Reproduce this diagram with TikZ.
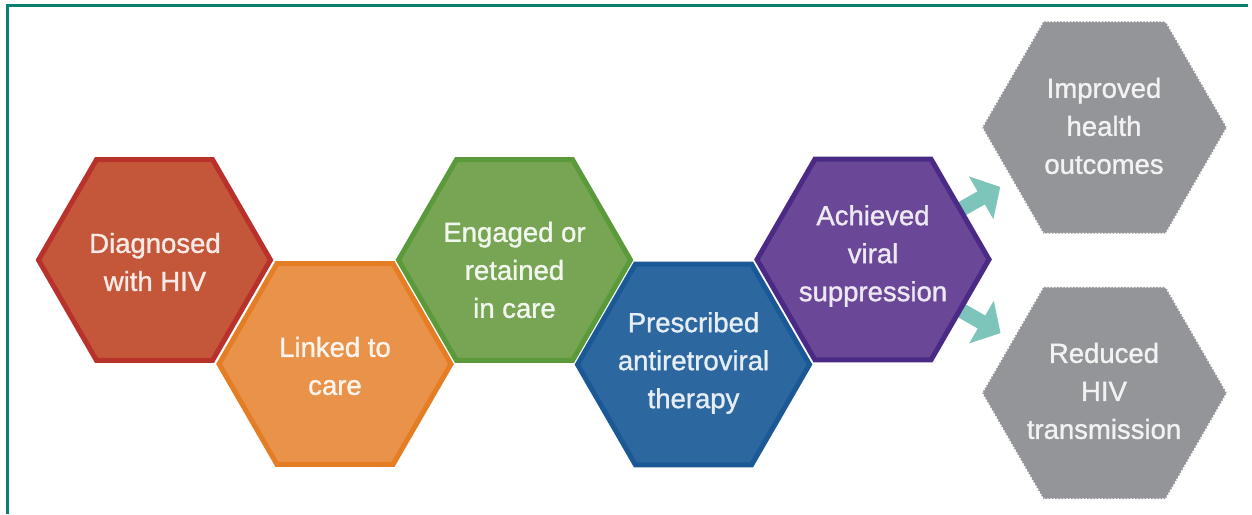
\documentclass[tikz,border=0pt]{standalone}
\usepackage{fontspec}
\setmainfont{Liberation Sans}
\newfontfamily\hexfont[FakeBold=1.2]{Liberation Sans}
\usetikzlibrary{shapes.geometric,arrows.meta,backgrounds}
\definecolor{framec}{RGB}{11,127,111}
\definecolor{redf}{RGB}{196,87,58}
\definecolor{redd}{RGB}{184,49,42}
\definecolor{orf}{RGB}{232,146,74}
\definecolor{ord}{RGB}{229,125,37}
\definecolor{grf}{RGB}{120,165,84}
\definecolor{grd}{RGB}{90,154,58}
\definecolor{blf}{RGB}{44,103,160}
\definecolor{bld}{RGB}{27,88,150}
\definecolor{puf}{RGB}{106,72,151}
\definecolor{pud}{RGB}{75,42,133}
\definecolor{grayhex}{RGB}{147,149,152}
\definecolor{arrowc}{RGB}{125,196,186}
\begin{document}
\begin{tikzpicture}[x=0.5pt,y=-0.5pt,
  hex/.style={regular polygon, regular polygon sides=6, minimum size=116pt, inner sep=0pt, line width=2.5pt},
  ghex/.style={regular polygon, regular polygon sides=6, minimum size=122.5pt, inner sep=0pt, fill=grayhex, draw=white, line width=0.8pt, dash pattern=on 0.8pt off 0.8pt},
  txt/.style={align=center, font=\hexfont\fontsize{13.75}{19}\selectfont, inner sep=0pt},
  flow/.style={line width=7.5pt, draw=arrowc, -{Triangle[length=11pt,width=24pt]}, shorten <=50pt, shorten >=60pt},
  framel/.style={draw=framec, line width=1.5pt}]
\useasboundingbox (0,0) rectangle (1252,514);
\coordinate (fb) at (7,514);
\coordinate (ftl) at (7,5);
\coordinate (ftr) at (1248,5);
\draw[framel] (fb) -- (ftl) -- (ftr);

\node[hex, fill=redf, draw=redd] (h1) at (154.5,260) {};
\node[hex, fill=orf, draw=ord] (h2) at (335,364) {};
\node[hex, fill=grf, draw=grd] (h3) at (514.5,260) {};
\node[hex, fill=blf, draw=bld] (h4) at (693.5,364.5) {};
\node[hex, fill=puf, draw=pud] (h5) at (873,259.5) {};
\node[ghex] (g1) at (1104.5,127.5) {};
\node[ghex] (g2) at (1104.5,393) {};

\begin{pgfonlayer}{background}
\draw[flow] (h5.center) -- (g1.center);
\draw[flow] (h5.center) -- (g2.center);
\end{pgfonlayer}

\node[txt, text=white!88!redf] (t1) at (155,262) {Diagnosed\\with HIV};
\node[txt, text=white!90!orf] (t2) at (335,366) {Linked to\\care};
\node[txt, text=white!90!grf] (t3) at (514.5,270) {Engaged or\\retained\\in care};
\node[txt, text=white!88!blf] (t4) at (693.5,363) {Prescribed\\antiretroviral\\therapy};
\node[txt, text=white!88!puf] (t5) at (873,256) {Achieved\\viral\\suppression};
\node[txt, text=white!88!grayhex] (t6) at (1104,126) {Improved\\health\\outcomes};
\node[txt, text=white!88!grayhex] (t7) at (1104,391) {Reduced\\HIV\\transmission};
\end{tikzpicture}
\end{document}
